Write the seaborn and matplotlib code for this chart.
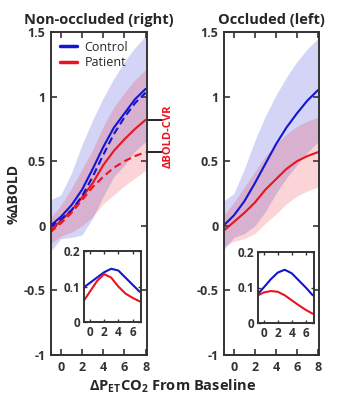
import numpy as np
import pandas as pd
import matplotlib
matplotlib.use('Agg')
import matplotlib.pyplot as plt
import seaborn as sns

# data (x = delta PetCO2 from baseline)
x = [-1, 0, 1, 2, 3, 4, 5, 6, 7, 8]

# non-occluded (right)
nonocc_ctrl = [0.0, 0.07, 0.16, 0.28, 0.44, 0.61, 0.76, 0.87, 0.98, 1.06]
nonocc_ctrl_dash = [-0.01, 0.05, 0.12, 0.23, 0.38, 0.55, 0.71, 0.84, 0.95, 1.03]
nonocc_ctrl_sd = [0.2, 0.17, 0.25, 0.35, 0.38, 0.38, 0.38, 0.4, 0.4, 0.41]
nonocc_pat = [-0.04, 0.04, 0.12, 0.22, 0.33, 0.47, 0.58, 0.67, 0.75, 0.82]
nonocc_pat_dash = [-0.05, 0.02, 0.1, 0.2, 0.3, 0.38, 0.45, 0.5, 0.54, 0.57]
nonocc_pat_sd = [0.1, 0.12, 0.17, 0.22, 0.26, 0.3, 0.34, 0.36, 0.38, 0.39]

# occluded (left)
occ_ctrl = [0.0, 0.08, 0.19, 0.33, 0.48, 0.63, 0.76, 0.87, 0.97, 1.05]
occ_ctrl_sd = [0.19, 0.17, 0.25, 0.33, 0.37, 0.38, 0.39, 0.4, 0.4, 0.4]
occ_pat = [-0.04, 0.03, 0.1, 0.18, 0.28, 0.36, 0.44, 0.5, 0.54, 0.57]
occ_pat_sd = [0.12, 0.15, 0.2, 0.24, 0.26, 0.27, 0.27, 0.27, 0.27, 0.27]

# insets
x_in = [-1, 0, 1, 2, 3, 4, 5, 6, 7]
nonocc_ctrl_in = [0.095, 0.11, 0.125, 0.14, 0.15, 0.145, 0.125, 0.105, 0.085]
nonocc_pat_in = [0.055, 0.085, 0.115, 0.135, 0.125, 0.1, 0.08, 0.068, 0.058]
occ_ctrl_in = [0.078, 0.1, 0.123, 0.142, 0.15, 0.14, 0.12, 0.1, 0.078]
occ_pat_in = [0.076, 0.086, 0.09, 0.088, 0.078, 0.064, 0.05, 0.037, 0.026]

blue = '#1414d2'
red = '#e8141e'
dark = '#333333'

sns.set_style('ticks')
plt.rcParams['font.family'] = ['Open Sans', 'DejaVu Sans']
plt.rcParams['mathtext.fontset'] = 'custom'
plt.rcParams['mathtext.rm'] = 'Open Sans:bold'
plt.rcParams['mathtext.bf'] = 'Open Sans:bold'
plt.rcParams['axes.edgecolor'] = dark
plt.rcParams['axes.linewidth'] = 1.4

fig = plt.figure(figsize=(3.46, 4.0), dpi=100)
ax1 = fig.add_axes([0.147, 0.1125, 0.277, 0.8075])
ax2 = fig.add_axes([0.647, 0.1125, 0.275, 0.8075])
in1 = fig.add_axes([0.243, 0.195, 0.165, 0.1775])
in2 = fig.add_axes([0.746, 0.1925, 0.162, 0.1775])


def band(ax, mean, sd, color):
    m = np.array(mean)
    s = np.array(sd)
    ax.fill_between(x, m - s, m + s, color=color, alpha=0.18, lw=0)


def style_main(ax, title):
    ax.set_xlim(-0.95, 8.1)
    ax.set_ylim(-1, 1.5)
    ax.set_xticks([0, 2, 4, 6, 8])
    ax.set_yticks([-1, -0.5, 0, 0.5, 1, 1.5])
    ax.set_yticklabels(['-1', '-0.5', '0', '0.5', '1', '1.5'])
    ax.tick_params(direction='in', top=True, right=True, length=4, width=1.2,
                   labelsize=9, colors=dark, pad=4)
    for lab in ax.get_xticklabels() + ax.get_yticklabels():
        lab.set_fontweight('bold')
    ax.set_title(title, fontsize=10.5, fontweight='bold', pad=6)
    ax.set_xlabel('')
    ax.set_ylabel('')


def style_inset(ax):
    ax.set_xlim(-0.8, 7.2)
    ax.set_ylim(0, 0.2)
    ax.set_xticks([0, 2, 4, 6])
    ax.set_yticks([0, 0.1, 0.2])
    ax.set_yticklabels(['0', '0.1', '0.2'])
    ax.tick_params(direction='in', top=True, right=True, length=2.5, width=1,
                   labelsize=8.5, colors=dark, pad=3)
    for lab in ax.get_xticklabels() + ax.get_yticklabels():
        lab.set_fontweight('bold')
    ax.set_xlabel('')
    ax.set_ylabel('')


# non-occluded panel
band(ax1, nonocc_ctrl, nonocc_ctrl_sd, blue)
band(ax1, nonocc_pat, nonocc_pat_sd, red)
sns.lineplot(x=x, y=nonocc_ctrl, ax=ax1, color=blue, lw=1.5, label='Control')
sns.lineplot(x=x, y=nonocc_pat, ax=ax1, color=red, lw=1.5, label='Patient')
sns.lineplot(x=x, y=nonocc_ctrl_dash, ax=ax1, color=blue, lw=1.5)
ax1.lines[-1].set_dashes((3.5, 2))
sns.lineplot(x=x, y=nonocc_pat_dash, ax=ax1, color=red, lw=1.5)
ax1.lines[-1].set_dashes((3.5, 2))
style_main(ax1, 'Non-occluded (right)')
leg = ax1.legend(loc='upper left', frameon=False, fontsize=9, handlelength=1.4,
                 handletextpad=0.6, borderaxespad=0.3, labelspacing=0.2)
for h in leg.get_lines():
    h.set_linewidth(2.5)
ax1.set_ylabel('%ΔBOLD', fontsize=10, fontweight='bold', labelpad=2)

# delta BOLD-CVR marker lines
for yv in [nonocc_pat[-1], nonocc_pat_dash[-1]]:
    ax1.plot([8.1, 9.5], [yv, yv], color='black', lw=1.2, clip_on=False)
ax1.text(10.1, 0.69, 'ΔBOLD-CVR', color=red, rotation=90, fontsize=8,
         fontweight='bold', ha='center', va='center', clip_on=False)

# occluded panel
band(ax2, occ_ctrl, occ_ctrl_sd, blue)
band(ax2, occ_pat, occ_pat_sd, red)
sns.lineplot(x=x, y=occ_ctrl, ax=ax2, color=blue, lw=1.5)
sns.lineplot(x=x, y=occ_pat, ax=ax2, color=red, lw=1.5)
style_main(ax2, 'Occluded (left)')

# insets
sns.lineplot(x=x_in, y=nonocc_ctrl_in, ax=in1, color=blue, lw=1.5)
sns.lineplot(x=x_in, y=nonocc_pat_in, ax=in1, color=red, lw=1.5)
style_inset(in1)
sns.lineplot(x=x_in, y=occ_ctrl_in, ax=in2, color=blue, lw=1.5)
sns.lineplot(x=x_in, y=occ_pat_in, ax=in2, color=red, lw=1.5)
style_inset(in2)

fig.text(0.5, 0.012, r'ΔP$_{\mathrm{ET}}$CO$_{\mathrm{2}}$ From Baseline',
         ha='center', va='bottom', fontsize=10.5, fontweight='bold')

fig.savefig('out.png', dpi=100)
